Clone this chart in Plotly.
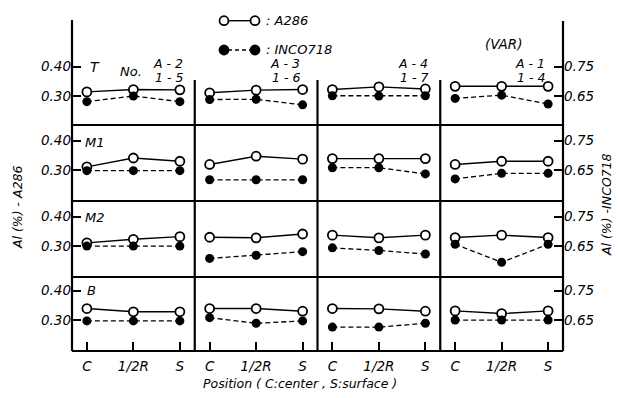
import plotly.graph_objects as go

# ---------------- data ----------------
positions = ["C", "1/2R", "S"]
row_names = ["T", "M1", "M2", "B"]
col_top = ["A - 2", "A - 3", "A - 4", "A - 1"]
col_bot = ["1 - 5", "1 - 6", "1 - 7", "1 - 4"]

# Al (%) in A286 (left axis), per row, per panel (C, 1/2R, S)
a286_T = [[0.314, 0.322, 0.321], [0.311, 0.320, 0.322], [0.322, 0.331, 0.324], [0.333, 0.333, 0.333]]
a286_M1 = [[0.311, 0.341, 0.330], [0.319, 0.347, 0.337], [0.339, 0.339, 0.339], [0.319, 0.330, 0.330]]
a286_M2 = [[0.311, 0.323, 0.332], [0.330, 0.328, 0.341], [0.337, 0.328, 0.337], [0.329, 0.337, 0.329]]
a286_B = [[0.339, 0.328, 0.328], [0.339, 0.339, 0.330], [0.339, 0.338, 0.330], [0.331, 0.322, 0.331]]

# Al (%) in INCO718 (right axis)
inco_T = [[0.631, 0.650, 0.631], [0.638, 0.639, 0.620], [0.651, 0.650, 0.651], [0.642, 0.653, 0.623]]
inco_M1 = [[0.648, 0.648, 0.648], [0.617, 0.617, 0.617], [0.658, 0.658, 0.637], [0.620, 0.639, 0.639]]
inco_M2 = [[0.650, 0.650, 0.650], [0.608, 0.619, 0.631], [0.644, 0.635, 0.623], [0.656, 0.595, 0.656]]
inco_B = [[0.647, 0.647, 0.647], [0.658, 0.639, 0.647], [0.626, 0.626, 0.639], [0.650, 0.650, 0.650]]

left_ticks = [0.30, 0.40]
left_ticktext = ["0.30", "0.40"]
right_ticks = [0.65, 0.75]
right_ticktext = ["0.65", "0.75"]

a286 = [a286_T, a286_M1, a286_M2, a286_B]
inco = [inco_T, inco_M1, inco_M2, inco_B]

# ---------------- layout geometry ----------------
W, H = 618, 398
ML, MR, MT, MB = 72, 55, 20, 47
PW, PH = W - ML - MR, H - MT - MB


def fx(px):
    return (px - ML) / PW


def fy(py):
    return (H - MB - py) / PH


row_bounds_px = [20, 125, 201, 277, 351]  # top to bottom
col_bounds = [0.0, 0.25, 0.5, 0.75, 1.0]
row_ranges = [[0.2017, 0.558], [0.195, 0.453], [0.195, 0.453], [0.195, 0.446]]
OFFSET = 0.35

FONT = "DejaVu Sans"
TS = 13.5
fnt = dict(family=FONT, size=TS, color="black", style="italic")

fig = go.Figure()
layout = {}
nP = 16
for r in range(4):
    ydom = [fy(row_bounds_px[r + 1]), fy(row_bounds_px[r])]
    for c in range(4):
        n = r * 4 + c + 1
        n2 = n + nP
        xs = "" if n == 1 else str(n)
        xa, ya, ya2 = "x" + xs, "y" + xs, "y" + str(n2)
        bottom = r == 3
        layout["xaxis" + xs] = dict(
            domain=[col_bounds[c], col_bounds[c + 1]], anchor=ya,
            type="category", categoryorder="array", categoryarray=positions,
            range=[-0.32, 2.32], showgrid=False, zeroline=False, showline=False,
            ticks="inside" if bottom else "", ticklen=9, tickwidth=1.8, tickcolor="black",
            showticklabels=bottom, tickfont=fnt, ticklabelstandoff=5, fixedrange=True,
        )
        first = c == 0
        last = c == 3
        layout["yaxis" + xs] = dict(
            domain=ydom, anchor=xa, range=row_ranges[r],
            showgrid=False, zeroline=False, showline=False,
            tickvals=left_ticks if first else [], ticktext=left_ticktext if first else [],
            ticks="inside" if first else "", ticklen=9, tickwidth=1.8, tickcolor="black",
            showticklabels=first, tickfont=fnt, fixedrange=True,
        )
        layout["yaxis" + str(n2)] = dict(
            overlaying=ya, anchor=xa, side="right",
            range=[row_ranges[r][0] + OFFSET, row_ranges[r][1] + OFFSET],
            showgrid=False, zeroline=False, showline=False,
            tickvals=right_ticks if last else [], ticktext=right_ticktext if last else [],
            ticks="inside" if last else "", ticklen=9, tickwidth=1.8, tickcolor="black",
            showticklabels=last, tickfont=fnt, fixedrange=True,
        )
        fig.add_trace(go.Scatter(
            x=positions, y=a286[r][c], xaxis=xa, yaxis=ya, mode="lines+markers",
            line=dict(color="black", width=1.4),
            marker=dict(symbol="circle", size=9, color="white", line=dict(color="black", width=1.8)),
            showlegend=False, hoverinfo="skip",
        ))
        fig.add_trace(go.Scatter(
            x=positions, y=inco[r][c], xaxis=xa, yaxis=ya2, mode="lines+markers",
            line=dict(color="black", width=1.3, dash="5px,3px"),
            marker=dict(symbol="circle", size=9, color="black"),
            showlegend=False, hoverinfo="skip",
        ))

# ---------------- frame ----------------
shapes = []
LW = 2.2
ln = dict(color="black", width=LW)
shapes.append(dict(type="line", xref="paper", yref="paper", x0=0, x1=0, y0=0, y1=1, line=ln))
shapes.append(dict(type="line", xref="paper", yref="paper", x0=1, x1=1, y0=0, y1=fy(21), line=ln))
shapes.append(dict(type="line", xref="paper", yref="paper", x0=0, x1=1, y0=0, y1=0, line=ln))
for py in row_bounds_px[1:4]:
    shapes.append(dict(type="line", xref="paper", yref="paper", x0=0, x1=1, y0=fy(py), y1=fy(py), line=ln))
for cx in col_bounds[1:4]:
    shapes.append(dict(type="line", xref="paper", yref="paper", x0=cx, x1=cx, y0=0, y1=fy(80), line=ln))


# legend keys
def key(y_px, filled):
    out = []
    out.append(dict(type="line", xref="paper", yref="paper", x0=fx(228), x1=fx(251), y0=fy(y_px), y1=fy(y_px),
                    line=dict(color="black", width=1.4, dash="solid" if not filled else "4px,3px")))
    for cx in (224, 255):
        out.append(dict(type="circle", xref="paper", yref="paper", xsizemode="pixel", ysizemode="pixel",
                        xanchor=fx(cx), yanchor=fy(y_px), x0=-4.5, x1=4.5, y0=-4.5, y1=4.5,
                        fillcolor="black" if filled else "white", line=dict(color="black", width=1.8)))
    return out


shapes += key(20.7, False)
shapes += key(50, True)

# ---------------- annotations ----------------
ann = []


def A(text, px, py, xanchor="center", size=13, angle=0):
    ann.append(dict(text=text, xref="paper", yref="paper", x=fx(px), y=fy(py), xanchor=xanchor, yanchor="middle",
                    showarrow=False, textangle=angle, borderpad=0,
                    font=dict(family=FONT, size=size, color="black", style="italic")))


A(": A286", 265, 20, "left", 13)
A(": INCO718", 265, 49, "left", 13)
A("T", 95, 67, "center", 14)
A("No.", 131, 71, "center", 13)
col_right_px = [184, 301, 429, 546]
for c in range(4):
    A(col_top[c], col_right_px[c], 63.5, "right", 12.5)
    A(col_bot[c], col_right_px[c], 77.5, "right", 12.5)
A("(VAR)", 503, 44, "center", 13.5)
A("M1", 84, 142, "left", 13)
A("M2", 84, 217, "left", 13)
A("B", 86, 290, "left", 13)
A("Al (%) - A286", 17, 207, "center", 12.5, -90)
A("Al (%) -INCO718", 606, 205, "center", 12.5, -90)
A("Position ( C:center , S:surface )", 300, 383, "center", 12.5)

fig.update_layout(
    **layout,
    width=W, height=H, autosize=False,
    margin=dict(l=ML, r=MR, t=MT, b=MB, pad=0),
    paper_bgcolor="white", plot_bgcolor="rgba(0,0,0,0)",
    font=dict(family=FONT, size=TS, color="black", style="italic"),
    shapes=shapes, annotations=ann, showlegend=False,
)

fig.write_html("out.html", config={"displayModeBar": False})

# remove default page margin so the figure sits at the window origin
with open("out.html", "r", encoding="utf-8") as f:
    html = f.read()
html = html.replace("<head>", "<head><style>html,body{margin:0;padding:0;overflow:hidden;}</style>", 1)
with open("out.html", "w", encoding="utf-8") as f:
    f.write(html)
